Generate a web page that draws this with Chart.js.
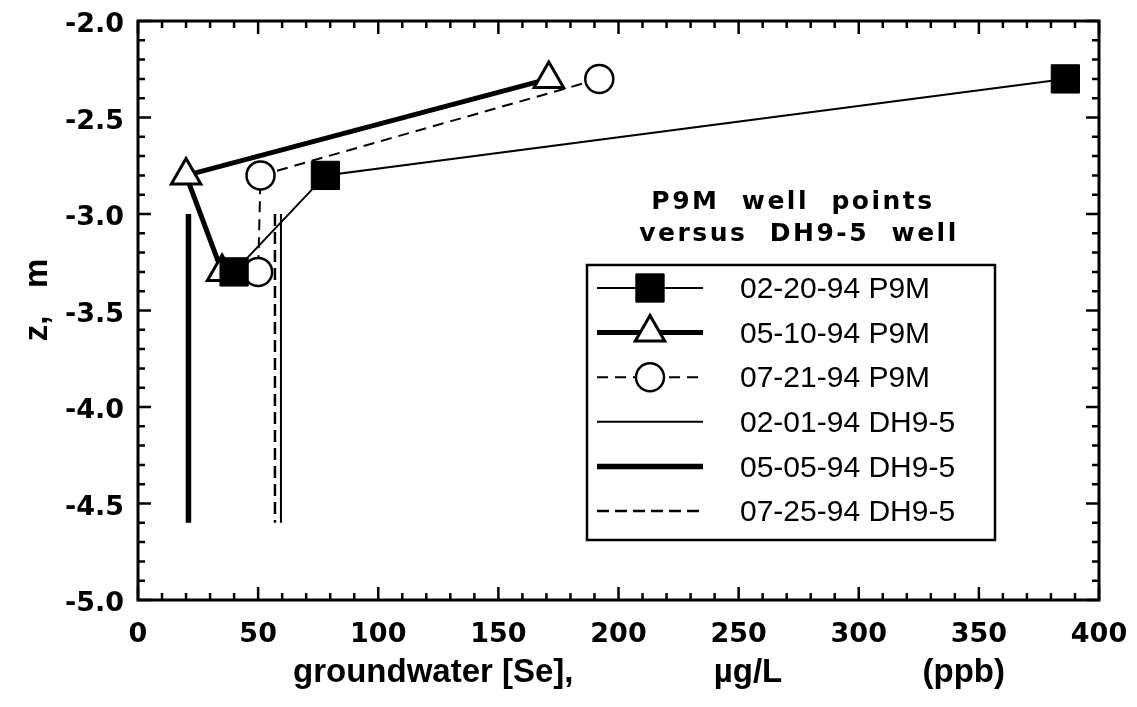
<!DOCTYPE html>
<html><head><meta charset="utf-8">
<script src="https://cdn.jsdelivr.net/npm/chart.js@4.4.1/dist/chart.umd.min.js"></script>
<style>html,body{margin:0;padding:0;background:#fff;}#wrap{width:1137px;height:707px;}</style>
</head><body><div id="wrap"><canvas id="c" width="1137" height="707"></canvas></div>
<script>
// ---- data ----
const depthsP9M = [-2.3, -2.8, -3.3];
const se_02_20_94_P9M = [386, 78, 40];
const se_05_10_94_P9M = [171, 20, 35];
const se_07_21_94_P9M = [192, 51, 50];
const depthsDH95 = [-3.0, -4.6];
const se_02_01_94_DH95 = [59.5, 59.5];
const se_05_05_94_DH95 = [21, 21];
const se_07_25_94_DH95 = [57, 57];
const seriesLabels = ['02-20-94 P9M', '05-10-94 P9M', '07-21-94 P9M', '02-01-94 DH9-5', '05-05-94 DH9-5', '07-25-94 DH9-5'];
const xRange = [0, 400];
const yRange = [-5.0, -2.0];
const xMajorStep = 50, xMinorStep = 10;
const yMajorStep = 0.5, yMinorStep = 0.1;
const noteLines = ['P9M  well  points', 'versus  DH9-5  well'];
const xTitleParts = ['groundwater [Se],', 'µg/L', '(ppb)'];
const yTitleText = 'z,   m';

function pts(xs, ys) { return xs.map((x, i) => ({x: x, y: ys[i]})); }

const datasets = [
  {label: seriesLabels[0], data: pts(se_02_20_94_P9M, depthsP9M), borderColor: '#000', backgroundColor: '#000',
   borderWidth: 2, pointStyle: 'rect', pointRadius: 20, pointBorderWidth: 1, pointBackgroundColor: '#000', pointBorderColor: '#000'},
  {label: seriesLabels[1], data: pts(se_05_10_94_P9M, depthsP9M), borderColor: '#000', backgroundColor: '#fff',
   borderWidth: 5, pointStyle: 'triangle', pointRadius: 17, pointBorderWidth: 3, pointBackgroundColor: '#fff', pointBorderColor: '#000'},
  {label: seriesLabels[2], data: pts(se_07_21_94_P9M, depthsP9M), borderColor: '#000', backgroundColor: '#fff',
   borderWidth: 2, borderDash: [11, 7], pointStyle: 'circle', pointRadius: 14, pointBorderWidth: 2.5, pointBackgroundColor: '#fff', pointBorderColor: '#000'},
  {label: seriesLabels[3], data: pts(se_02_01_94_DH95, depthsDH95), borderColor: '#000', borderWidth: 2, pointRadius: 0},
  {label: seriesLabels[4], data: pts(se_05_05_94_DH95, depthsDH95), borderColor: '#000', borderWidth: 5.5, pointRadius: 0},
  {label: seriesLabels[5], data: pts(se_07_25_94_DH95, depthsDH95), borderColor: '#000', borderWidth: 2.5, borderDash: [12, 6], pointRadius: 0}
];
datasets.forEach(d => { d.showLine = true; d.fill = false; d.tension = 0; d.pointHoverRadius = d.pointRadius; });

const tickFont = {family: '"DejaVu Sans", sans-serif', weight: 'bold', size: 27};

function noPad(s) { s.paddingLeft = 0; s.paddingRight = 0; s.paddingTop = 0; s.paddingBottom = 0; }

const framePlugin = {
  id: 'frameAndExtras',
  afterDatasetsDraw(chart) {
    const ctx = chart.ctx, a = chart.chartArea;
    const xs = chart.scales.x, ys = chart.scales.y;
    ctx.save();
    ctx.strokeStyle = '#000';
    ctx.lineWidth = 2.5;
    ctx.lineCap = 'butt';
    const nx = Math.round((xRange[1] - xRange[0]) / xMinorStep);
    for (let i = 0; i <= nx; i++) {
      const v = xRange[0] + i * xMinorStep;
      const major = Math.abs(v / xMajorStep - Math.round(v / xMajorStep)) < 1e-6;
      const len = major ? 13 : 7;
      const px = xs.getPixelForValue(v);
      ctx.beginPath();
      ctx.moveTo(px, a.bottom); ctx.lineTo(px, a.bottom - len);
      ctx.moveTo(px, a.top); ctx.lineTo(px, a.top + len);
      ctx.stroke();
    }
    const ny = Math.round((yRange[1] - yRange[0]) / yMinorStep);
    for (let i = 0; i <= ny; i++) {
      const v = yRange[0] + i * yMinorStep;
      const major = Math.abs(v / yMajorStep - Math.round(v / yMajorStep)) < 1e-6;
      const len = major ? 13 : 7;
      const py = ys.getPixelForValue(v);
      ctx.beginPath();
      ctx.moveTo(a.left, py); ctx.lineTo(a.left + len, py);
      ctx.moveTo(a.right, py); ctx.lineTo(a.right - len, py);
      ctx.stroke();
    }
    ctx.lineWidth = 3;
    ctx.strokeRect(a.left, a.top, a.right - a.left, a.bottom - a.top);

    // note text
    ctx.fillStyle = '#000';
    ctx.font = 'bold 25px "DejaVu Sans", sans-serif';
    if ('letterSpacing' in ctx) ctx.letterSpacing = '2.5px';
    ctx.textAlign = 'center';
    ctx.textBaseline = 'middle';
    ctx.fillText(noteLines[0], 793, 202);
    ctx.fillText(noteLines[1], 799, 234);
    if ('letterSpacing' in ctx) ctx.letterSpacing = '0px';

    // legend box
    const box = {l: 587, t: 265, r: 995, b: 540};
    ctx.lineWidth = 2.5;
    ctx.strokeRect(box.l, box.t, box.r - box.l, box.b - box.t);
    const rowY0 = 288, rowStep = 44.6;
    const sx0 = 597, sx1 = 703, tx = 740;
    chart.data.datasets.forEach((d, i) => {
      const y = rowY0 + i * rowStep;
      ctx.save();
      ctx.strokeStyle = d.borderColor;
      ctx.lineWidth = d.borderWidth;
      ctx.setLineDash(d.borderDash || []);
      ctx.beginPath(); ctx.moveTo(sx0, y); ctx.lineTo(sx1, y); ctx.stroke();
      ctx.setLineDash([]);
      if (d.pointRadius > 0) {
        ctx.fillStyle = d.pointBackgroundColor;
        ctx.strokeStyle = d.pointBorderColor;
        ctx.lineWidth = d.pointBorderWidth;
        Chart.helpers.drawPoint(ctx, {pointStyle: d.pointStyle, radius: d.pointRadius, rotation: 0, borderWidth: d.pointBorderWidth}, (sx0 + sx1) / 2, y);
      }
      ctx.restore();
      ctx.fillStyle = '#000';
      ctx.font = '30px "Liberation Sans", Arial, sans-serif';
      ctx.textAlign = 'left';
      ctx.textBaseline = 'middle';
      ctx.fillText(d.label, tx, y + 2);
    });

    // x title
    ctx.font = 'bold 33px "Liberation Sans", sans-serif';
    ctx.textAlign = 'left';
    ctx.textBaseline = 'middle';
    const widths = xTitleParts.map(t => ctx.measureText(t).width);
    const total = 712;
    const gap = Math.max(30, (total - widths.reduce((s, w) => s + w, 0)) / 2);
    let xx = 293;
    xTitleParts.forEach((t, i) => { ctx.fillText(t, xx, 673); xx += widths[i] + gap; });

    // y title
    ctx.save();
    ctx.translate(38, 300);
    ctx.rotate(-Math.PI / 2);
    ctx.textAlign = 'center';
    ctx.font = 'bold 33px "Liberation Sans", sans-serif';
    ctx.fillText(yTitleText, 0, 0);
    ctx.restore();
    ctx.restore();
  }
};

new Chart(document.getElementById('c'), {
  type: 'scatter',
  data: {datasets: datasets},
  options: {
    responsive: false,
    animation: false,
    events: [],
    layout: {padding: {top: 15, right: 38, left: 0, bottom: 0}},
    plugins: {legend: {display: false}, tooltip: {enabled: false}},
    scales: {
      x: {
        type: 'linear', min: xRange[0], max: xRange[1],
        grid: {display: false, drawTicks: false},
        border: {display: false},
        ticks: {stepSize: xMajorStep, color: '#000', font: tickFont, padding: 19, maxRotation: 0, autoSkip: false},
        afterFit(s) { s.height = 107; noPad(s); }
      },
      y: {
        type: 'linear', min: yRange[0], max: yRange[1],
        grid: {display: false, drawTicks: false},
        border: {display: false},
        ticks: {stepSize: yMajorStep, color: '#000', font: tickFont, padding: 14, autoSkip: false, labelOffset: 4,
                callback: v => Number(v).toFixed(1)},
        afterFit(s) { s.width = 138; noPad(s); }
      }
    }
  },
  plugins: [framePlugin]
});
</script>
</body></html>
